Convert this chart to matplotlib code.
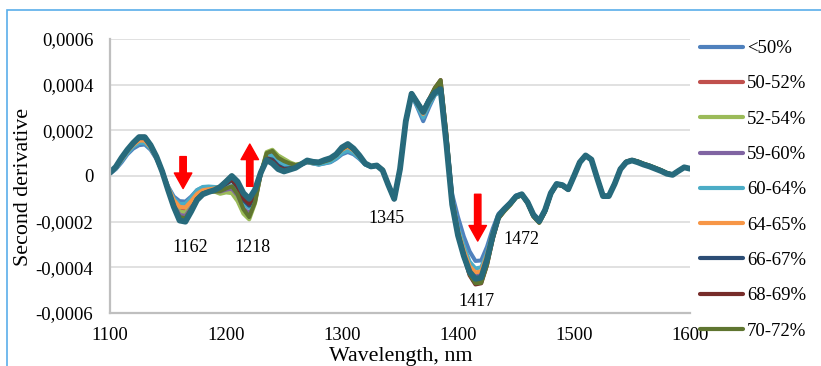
import numpy as np
import matplotlib.pyplot as plt
from matplotlib.patches import Rectangle

plt.rcParams['font.family'] = ['Liberation Serif', 'DejaVu Serif']

# wavelength grid, nm
wl = np.arange(1100, 1601, 5)

# second derivative values, in units of 1e-4
s_lt50 = [0.10, 0.30, 0.60, 0.95, 1.20, 1.35, 1.38, 1.15, 0.75, 0.20,
          -0.45, -0.90, -1.10, -1.12, -0.90, -0.62, -0.50, -0.50, -0.55, -0.55,
          -0.50, -0.50, -0.75, -1.15, -1.30, -0.85, 0.10, 0.75, 0.85, 0.60,
          0.45, 0.40, 0.40, 0.50, 0.60, 0.55, 0.50, 0.55, 0.60, 0.75,
          0.95, 1.05, 0.95, 0.75, 0.50, 0.40, 0.44, 0.25, -0.40, -0.95,
          0.30, 2.35, 3.55, 3.00, 2.40, 3.00, 3.55, 3.70, 1.70, -0.80,
          -1.80, -2.65, -3.30, -3.72, -3.70, -3.10, -2.30, -1.65, -1.40, -1.15,
          -0.85, -0.78, -1.12, -1.65, -1.92, -1.45, -0.72, -0.33, -0.38, -0.56,
          0.02, 0.62, 0.90, 0.72, -0.10, -0.86, -0.86, -0.33, 0.32, 0.63,
          0.70, 0.62, 0.50, 0.42, 0.32, 0.22, 0.10, 0.05, 0.22, 0.38,
          0.32]
s_50_52 = [0.12, 0.35, 0.70, 1.05, 1.35, 1.55, 1.55, 1.25, 0.80, 0.20,
           -0.50, -1.10, -1.45, -1.50, -1.20, -0.85, -0.65, -0.62, -0.65, -0.70,
           -0.60, -0.60, -0.95, -1.50, -1.75, -1.10, 0.10, 0.95, 1.00, 0.75,
           0.60, 0.50, 0.45, 0.52, 0.60, 0.56, 0.52, 0.60, 0.68, 0.85,
           1.10, 1.25, 1.10, 0.82, 0.52, 0.42, 0.46, 0.26, -0.40, -1.00,
           0.30, 2.40, 3.58, 3.15, 2.70, 3.25, 3.70, 3.95, 1.60, -1.10,
           -2.40, -3.30, -4.00, -4.30, -4.25, -3.50, -2.50, -1.75, -1.50, -1.25,
           -0.92, -0.82, -1.18, -1.75, -2.02, -1.55, -0.78, -0.37, -0.42, -0.60,
           0.00, 0.60, 0.90, 0.72, -0.10, -0.88, -0.89, -0.35, 0.30, 0.62,
           0.70, 0.62, 0.52, 0.44, 0.34, 0.24, 0.12, 0.05, 0.22, 0.38,
           0.32]
s_52_54 = [0.12, 0.35, 0.72, 1.08, 1.38, 1.58, 1.58, 1.28, 0.82, 0.22,
           -0.52, -1.15, -1.55, -1.60, -1.25, -0.88, -0.66, -0.62, -0.68, -0.78,
           -0.72, -0.75, -1.10, -1.65, -1.90, -1.20, 0.10, 1.05, 1.15, 0.90,
           0.75, 0.60, 0.50, 0.55, 0.62, 0.58, 0.55, 0.62, 0.70, 0.88,
           1.15, 1.30, 1.15, 0.85, 0.53, 0.43, 0.47, 0.26, -0.40, -1.00,
           0.30, 2.40, 3.58, 3.15, 2.72, 3.28, 3.75, 4.05, 1.70, -1.05,
           -2.45, -3.40, -4.15, -4.55, -4.55, -3.75, -2.70, -1.85, -1.55, -1.28,
           -0.95, -0.85, -1.20, -1.78, -2.05, -1.58, -0.80, -0.38, -0.43, -0.60,
           0.00, 0.60, 0.90, 0.72, -0.10, -0.88, -0.89, -0.35, 0.30, 0.62,
           0.70, 0.64, 0.54, 0.46, 0.36, 0.26, 0.14, 0.06, 0.22, 0.38,
           0.32]
s_59_60 = [0.13, 0.37, 0.75, 1.10, 1.40, 1.62, 1.62, 1.30, 0.83, 0.21,
           -0.55, -1.25, -1.70, -1.75, -1.38, -0.95, -0.72, -0.66, -0.66, -0.68,
           -0.60, -0.55, -0.85, -1.40, -1.65, -1.05, 0.10, 0.90, 0.95, 0.70,
           0.55, 0.48, 0.44, 0.52, 0.62, 0.58, 0.55, 0.62, 0.70, 0.86,
           1.15, 1.30, 1.12, 0.84, 0.53, 0.42, 0.46, 0.25, -0.40, -1.02,
           0.30, 2.40, 3.60, 3.18, 2.75, 3.28, 3.72, 3.95, 1.60, -1.10,
           -2.45, -3.35, -4.05, -4.35, -4.30, -3.55, -2.55, -1.75, -1.48, -1.22,
           -0.91, -0.81, -1.16, -1.72, -2.00, -1.52, -0.76, -0.36, -0.41, -0.59,
           0.00, 0.60, 0.90, 0.72, -0.10, -0.87, -0.88, -0.35, 0.30, 0.61,
           0.69, 0.61, 0.51, 0.43, 0.33, 0.23, 0.11, 0.05, 0.22, 0.38,
           0.32]
s_60_64 = [0.12, 0.33, 0.66, 1.00, 1.28, 1.45, 1.45, 1.20, 0.78, 0.20,
           -0.48, -0.98, -1.22, -1.22, -0.95, -0.62, -0.48, -0.46, -0.48, -0.50,
           -0.45, -0.45, -0.75, -1.20, -1.40, -0.90, 0.10, 0.85, 0.90, 0.65,
           0.50, 0.45, 0.42, 0.50, 0.60, 0.55, 0.50, 0.56, 0.62, 0.78,
           1.00, 1.12, 1.00, 0.78, 0.50, 0.40, 0.45, 0.25, -0.40, -0.98,
           0.30, 2.38, 3.55, 3.05, 2.55, 3.10, 3.55, 3.70, 1.55, -1.00,
           -2.25, -3.05, -3.75, -4.05, -4.00, -3.35, -2.45, -1.70, -1.45, -1.18,
           -0.88, -0.79, -1.14, -1.68, -1.95, -1.48, -0.74, -0.34, -0.39, -0.57,
           0.01, 0.61, 0.90, 0.72, -0.10, -0.87, -0.87, -0.34, 0.31, 0.62,
           0.70, 0.62, 0.51, 0.43, 0.33, 0.23, 0.11, 0.05, 0.22, 0.38,
           0.32]
s_64_65 = [0.13, 0.36, 0.72, 1.08, 1.36, 1.55, 1.55, 1.25, 0.80, 0.20,
           -0.50, -1.05, -1.35, -1.38, -1.10, -0.78, -0.62, -0.58, -0.55, -0.45,
           -0.22, 0.02, -0.25, -0.80, -1.08, -0.65, 0.15, 0.80, 0.70, 0.40,
           0.28, 0.32, 0.38, 0.52, 0.66, 0.60, 0.58, 0.66, 0.74, 0.90,
           1.15, 1.28, 1.12, 0.85, 0.55, 0.43, 0.48, 0.28, -0.38, -0.98,
           0.30, 2.40, 3.58, 3.15, 2.72, 3.22, 3.62, 3.80, 1.55, -1.10,
           -2.40, -3.25, -3.95, -4.22, -4.18, -3.45, -2.50, -1.72, -1.45, -1.20,
           -0.90, -0.80, -1.15, -1.70, -1.98, -1.50, -0.75, -0.35, -0.40, -0.58,
           0.00, 0.61, 0.91, 0.73, -0.10, -0.87, -0.87, -0.34, 0.31, 0.63,
           0.71, 0.63, 0.52, 0.43, 0.33, 0.23, 0.11, 0.05, 0.22, 0.38,
           0.32]
s_66_67 = [0.14, 0.38, 0.78, 1.12, 1.42, 1.66, 1.66, 1.32, 0.84, 0.20,
           -0.58, -1.30, -1.85, -1.90, -1.48, -1.00, -0.76, -0.68, -0.62, -0.52,
           -0.35, -0.20, -0.50, -1.05, -1.30, -0.80, 0.12, 0.78, 0.72, 0.45,
           0.32, 0.34, 0.38, 0.52, 0.66, 0.61, 0.59, 0.68, 0.76, 0.92,
           1.20, 1.36, 1.17, 0.88, 0.55, 0.42, 0.46, 0.25, -0.40, -1.00,
           0.30, 2.40, 3.60, 3.20, 2.80, 3.30, 3.70, 3.90, 1.50, -1.20,
           -2.55, -3.50, -4.25, -4.60, -4.55, -3.75, -2.65, -1.78, -1.47, -1.22,
           -0.91, -0.81, -1.16, -1.72, -2.00, -1.52, -0.76, -0.36, -0.41, -0.59,
           0.00, 0.60, 0.90, 0.72, -0.10, -0.87, -0.88, -0.35, 0.30, 0.61,
           0.69, 0.61, 0.51, 0.43, 0.33, 0.23, 0.11, 0.05, 0.22, 0.38,
           0.32]
s_68_69 = [0.15, 0.40, 0.80, 1.15, 1.45, 1.72, 1.72, 1.36, 0.86, 0.20,
           -0.60, -1.35, -1.90, -1.95, -1.52, -1.03, -0.78, -0.70, -0.63, -0.52,
           -0.32, -0.15, -0.45, -0.98, -1.22, -0.75, 0.12, 0.75, 0.65, 0.40,
           0.28, 0.32, 0.38, 0.52, 0.67, 0.61, 0.59, 0.69, 0.77, 0.94,
           1.22, 1.38, 1.18, 0.89, 0.55, 0.42, 0.46, 0.25, -0.40, -1.02,
           0.30, 2.42, 3.62, 3.22, 2.85, 3.35, 3.85, 4.20, 1.80, -1.05,
           -2.50, -3.50, -4.35, -4.75, -4.70, -3.90, -2.75, -1.85, -1.52, -1.25,
           -0.93, -0.83, -1.18, -1.76, -2.04, -1.56, -0.79, -0.38, -0.42, -0.60,
           0.00, 0.60, 0.90, 0.72, -0.10, -0.88, -0.89, -0.35, 0.30, 0.62,
           0.70, 0.63, 0.53, 0.45, 0.35, 0.25, 0.13, 0.06, 0.22, 0.38,
           0.32]
s_70_72 = [0.14, 0.39, 0.78, 1.13, 1.43, 1.68, 1.68, 1.34, 0.85, 0.21,
           -0.58, -1.30, -1.80, -1.85, -1.45, -1.00, -0.76, -0.70, -0.68, -0.66,
           -0.55, -0.45, -0.80, -1.45, -1.80, -1.15, 0.10, 1.00, 1.10, 0.80,
           0.65, 0.55, 0.48, 0.54, 0.62, 0.58, 0.56, 0.64, 0.72, 0.90,
           1.18, 1.34, 1.15, 0.86, 0.54, 0.42, 0.46, 0.25, -0.40, -1.00,
           0.30, 2.42, 3.62, 3.22, 2.85, 3.35, 3.85, 4.20, 1.85, -1.00,
           -2.45, -3.45, -4.30, -4.70, -4.68, -3.90, -2.75, -1.85, -1.52, -1.25,
           -0.94, -0.84, -1.19, -1.77, -2.05, -1.57, -0.80, -0.38, -0.43, -0.60,
           0.00, 0.60, 0.90, 0.72, -0.10, -0.88, -0.89, -0.35, 0.30, 0.62,
           0.70, 0.64, 0.54, 0.46, 0.36, 0.26, 0.14, 0.06, 0.22, 0.38,
           0.32]
s_top = [0.15, 0.40, 0.80, 1.15, 1.45, 1.70, 1.70, 1.35, 0.85, 0.20,
         -0.60, -1.35, -1.95, -2.00, -1.55, -1.05, -0.80, -0.70, -0.62, -0.48,
         -0.25, 0.00, -0.25, -0.75, -1.00, -0.60, 0.15, 0.70, 0.55, 0.30,
         0.20, 0.28, 0.36, 0.52, 0.68, 0.62, 0.60, 0.70, 0.78, 0.95,
         1.25, 1.40, 1.20, 0.90, 0.55, 0.42, 0.46, 0.25, -0.40, -1.00,
         0.30, 2.40, 3.60, 3.20, 2.80, 3.30, 3.65, 3.80, 1.40, -1.25,
         -2.60, -3.50, -4.20, -4.50, -4.45, -3.65, -2.60, -1.75, -1.45, -1.20,
         -0.90, -0.80, -1.15, -1.70, -1.98, -1.50, -0.75, -0.35, -0.40, -0.58,
         0.00, 0.60, 0.90, 0.72, -0.10, -0.88, -0.88, -0.35, 0.30, 0.60,
         0.68, 0.60, 0.50, 0.42, 0.32, 0.22, 0.10, 0.05, 0.22, 0.38,
         0.32]

labels = ['<50%', '50-52%', '52-54%', '59-60%', '60-64%', '64-65%',
          '66-67%', '68-69%', '70-72%']
series = [s_lt50, s_50_52, s_52_54, s_59_60, s_60_64, s_64_65,
          s_66_67, s_68_69, s_70_72]
colors = ['#4F81BD', '#C0504D', '#9BBB59', '#8064A2', '#4BACC6', '#F79646',
          '#2C4D75', '#772C2A', '#5F7530']

yticks = [-6, -4, -2, 0, 2, 4, 6]
ytick_labels = ['-0,0006', '-0,0004', '-0,0002', '0', '0,0002', '0,0004', '0,0006']
xticks = [1100, 1200, 1300, 1400, 1500, 1600]

# band labels and arrows (wavelength, value in 1e-4)
peaks = [('1162', 1169, -3.15), ('1218', 1223, -3.15), ('1345', 1338, -1.85),
         ('1417', 1415.5, -5.5), ('1472', 1455, -2.8)]
arrows = [((1163, 0.85), (1163, -0.55)),
          ((1220.5, -0.45), (1220.5, 1.4)),
          ((1417, -0.8), (1417, -2.85))]

fig = plt.figure(figsize=(8.21, 3.66), dpi=100)
ax = fig.add_axes([110 / 821, 1 - 313 / 366, 580 / 821, 274 / 366])

# outer chart border
fig.patches.append(Rectangle((7 / 821, -0.1), 1.2, 1 - 10 / 366 + 0.1,
                             transform=fig.transFigure, fill=False,
                             edgecolor='#5AAEEA', linewidth=1.2))

for y in yticks[1:]:
    ax.axhline(y, color='#D9D9D9', linewidth=1.1, zorder=0)

for s, lab, c in zip(series, labels, colors):
    ax.plot(wl, s, color=c, linewidth=2.9, label=lab, solid_capstyle='round')
ax.plot(wl, s_top, color='#276A7C', linewidth=4.2, solid_capstyle='round')

for src, dst in arrows:
    ax.annotate('', xy=dst, xytext=src,
                arrowprops=dict(arrowstyle='simple,head_length=0.8,head_width=0.9,tail_width=0.33',
                                color='#FF0000', shrinkA=0, shrinkB=0, mutation_scale=14))

for txt, x, y in peaks:
    ax.text(x, y, txt, fontsize=13, ha='center', va='center')

ax.set_xlim(1100, 1600)
ax.set_ylim(-6, 6)
ax.set_xticks(xticks)
ax.set_yticks(yticks)
ax.set_yticklabels(ytick_labels)
ax.tick_params(length=0, labelsize=13.5)
ax.tick_params(axis='y', pad=12)
ax.tick_params(axis='x', pad=10)
for side in ['top', 'right']:
    ax.spines[side].set_visible(False)
for side in ['left', 'bottom']:
    ax.spines[side].set_color('#BFBFBF')
    ax.spines[side].set_linewidth(1.6)

fig.text(24 / 821, 1 - 187 / 366, 'Second derivative', rotation=90,
         ha='center', va='center', fontsize=15.8)
fig.text(401 / 821, 5 / 366, 'Wavelength, nm', ha='center', va='baseline',
         fontsize=15.8)

leg = ax.legend(loc='upper left', bbox_to_anchor=(700 / 821, 1 - 40 / 366),
                bbox_transform=fig.transFigure, frameon=False, fontsize=13.5,
                handlelength=2.3, handletextpad=0.2, labelspacing=0.97,
                borderpad=0, borderaxespad=0)
for h in leg.get_lines():
    h.set_linewidth(3.0)

fig.savefig('out.png', dpi=100)
